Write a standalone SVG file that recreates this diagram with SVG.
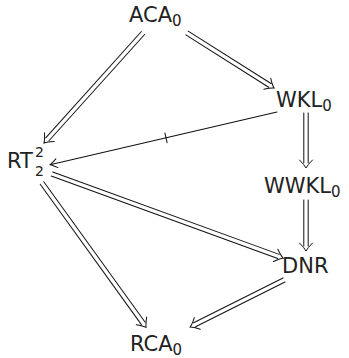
<svg xmlns="http://www.w3.org/2000/svg" width="349" height="358" viewBox="0 0 349 358">
  <style>
    .lbl { font-family: "DejaVu Sans", "Liberation Sans", sans-serif; font-size: 21px; fill: #222; }
    .sub { font-size: 15px; }
    .idx { font-size: 14px; }
    .conn path, .conn line { fill: none; stroke: #111; stroke-width: 1; stroke-linecap: round; }
  </style>
  <rect width="349" height="358" fill="#fff"/>

  <!-- nodes -->
  <g id="aca0"><text class="lbl" x="129" y="22">ACA<tspan class="sub" dy="4">0</tspan></text></g>
  <g id="wkl0"><text class="lbl" x="276" y="107">WKL<tspan class="sub" dy="4">0</tspan></text></g>
  <g id="rt22">
    <text class="lbl" x="7" y="168">RT</text>
    <text class="lbl idx" x="35" y="157">2</text>
    <text class="lbl idx" x="35" y="176">2</text>
  </g>
  <g id="wwkl0"><text class="lbl" x="264" y="193">WWKL<tspan class="sub" dy="4">0</tspan></text></g>
  <g id="dnr"><text class="lbl" x="282" y="273">DNR</text></g>
  <g id="rca0"><text class="lbl" x="130" y="351">RCA<tspan class="sub" dy="4">0</tspan></text></g>

  <!-- connectors: double-shafted implications, drawn along +x then rotated -->
  <g id="connectors" class="conn">
    <!-- ACA0 => WKL0 -->
    <g transform="translate(187,33) rotate(32.3)">
      <path d="M0,-2.2 H98 M0,2.2 H98 M95,-6.5 Q100,-1.5 103,0 Q100,1.5 95,6.5"/>
    </g>
    <!-- ACA0 => RT -->
    <g transform="translate(143,33) rotate(132)">
      <path d="M0,-2.2 H143 M0,2.2 H143 M140,-6.5 Q145,-1.5 148,0 Q145,1.5 140,6.5"/>
    </g>
    <!-- WKL0 -/-> RT (non-implication) -->
    <g transform="translate(277,112) rotate(166.9)">
      <path d="M0,0 H233 M226,-4.5 Q231,-1 233,0 Q231,1 226,4.5"/>
      <line x1="114" y1="-5" x2="114" y2="5"/>
    </g>
    <!-- WKL0 => WWKL0 -->
    <g transform="translate(306,113) rotate(90)">
      <path d="M0,-2.2 H50 M0,2.2 H50 M47,-6.5 Q52,-1.5 55,0 Q52,1.5 47,6.5"/>
    </g>
    <!-- WWKL0 => DNR -->
    <g transform="translate(306,200) rotate(90)">
      <path d="M0,-2.2 H46 M0,2.2 H46 M43,-6.5 Q48,-1.5 51,0 Q48,1.5 43,6.5"/>
    </g>
    <!-- RT => DNR -->
    <g transform="translate(52,174) rotate(20)">
      <path d="M0,-2.2 H241 M0,2.2 H241 M238,-6.5 Q243,-1.5 246,0 Q243,1.5 238,6.5"/>
    </g>
    <!-- RT => RCA0 -->
    <g transform="translate(42,183) rotate(54.2)">
      <path d="M0,-2.2 H173 M0,2.2 H173 M170,-6.5 Q175,-1.5 178,0 Q175,1.5 170,6.5"/>
    </g>
    <!-- DNR => RCA0 -->
    <g transform="translate(284,280) rotate(153.4)">
      <path d="M0,-2.2 H100 M0,2.2 H100 M97,-6.5 Q102,-1.5 105,0 Q102,1.5 97,6.5"/>
    </g>
  </g>
</svg>
